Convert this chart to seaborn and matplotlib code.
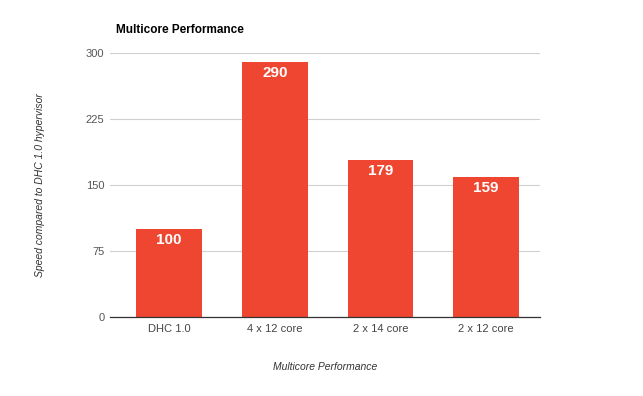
import matplotlib
matplotlib.use("Agg")
import matplotlib.pyplot as plt
import seaborn as sns
import pandas as pd

categories = ["DHC 1.0", "4 x 12 core", "2 x 14 core", "2 x 12 core"]
values = [100, 290, 179, 159]
yticks = [0, 75, 150, 225, 300]

sns.set_theme(style="white")
plt.rcParams['font.family'] = ['Liberation Sans', 'DejaVu Sans']

df = pd.DataFrame({"cat": categories, "val": values})

fig = plt.figure(figsize=(6.43, 3.96), dpi=100)
ax = fig.add_axes([0.171, 0.1995, 0.669, 0.6665])
sns.barplot(data=df, x="cat", y="val", color="#EE4630", saturation=1, width=0.62, ax=ax, zorder=3)
for p in ax.patches:
    p.set_edgecolor("none")

ax.set_xlim(-0.56, 3.51)
ax.set_ylim(0, 300)
ax.set_yticks(yticks)
ax.set_yticklabels([str(t) for t in yticks])
ax.yaxis.grid(True, color="#D0D0D0", linewidth=0.8, zorder=0)
ax.set_axisbelow(True)
for s in ["top", "right", "left"]:
    ax.spines[s].set_visible(False)
ax.spines["bottom"].set_color("#333333")
ax.spines["bottom"].set_linewidth(0.9)
ax.spines["bottom"].set_zorder(4)
ax.tick_params(axis="x", length=0, labelsize=8, labelcolor="#444444", pad=5)
ax.tick_params(axis="y", length=0, labelsize=8, labelcolor="#555555", pad=4)

for i, v in enumerate(values):
    ax.annotate(str(v), xy=(i, v), xytext=(0, -3), textcoords="offset points",
                ha="center", va="top", color="white", fontsize=11, fontweight="bold", zorder=5)

ax.set_xlabel("Multicore Performance", fontsize=7.5, fontstyle="italic", color="#333333", labelpad=20)
ax.set_ylabel("Speed compared to DHC 1.0 hypervisor", fontsize=7.5, fontstyle="italic", color="#333333", labelpad=29)
fig.text(116/643, 1 - 30/396, "Multicore Performance", fontsize=8.5, fontweight="bold", color="black", va="center", ha="left")

fig.savefig("out.png", dpi=100, facecolor="white")
